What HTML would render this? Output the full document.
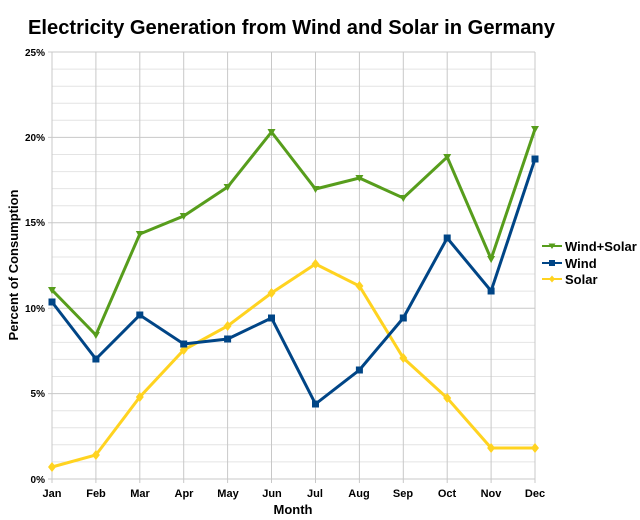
<!DOCTYPE html>
<html><head><style>body{margin:0;background:#fff}svg{display:block}</style></head><body>
<svg width="640" height="520" xmlns="http://www.w3.org/2000/svg" font-family="Liberation Sans, Arial, sans-serif">
<rect width="640" height="520" fill="#fff"/>
<text x="28" y="34" font-size="20" font-weight="bold" textLength="527" lengthAdjust="spacingAndGlyphs" fill="#000">Electricity Generation from Wind and Solar in Germany</text>
<g stroke="#e4e4e4" stroke-width="1">
<line x1="52" x2="535" y1="69.1" y2="69.1"/><line x1="52" x2="535" y1="86.2" y2="86.2"/><line x1="52" x2="535" y1="103.2" y2="103.2"/><line x1="52" x2="535" y1="120.3" y2="120.3"/>
<line x1="52" x2="535" y1="154.5" y2="154.5"/><line x1="52" x2="535" y1="171.6" y2="171.6"/><line x1="52" x2="535" y1="188.6" y2="188.6"/><line x1="52" x2="535" y1="205.7" y2="205.7"/>
<line x1="52" x2="535" y1="239.9" y2="239.9"/><line x1="52" x2="535" y1="257" y2="257"/><line x1="52" x2="535" y1="274" y2="274"/><line x1="52" x2="535" y1="291.1" y2="291.1"/>
<line x1="52" x2="535" y1="325.3" y2="325.3"/><line x1="52" x2="535" y1="342.4" y2="342.4"/><line x1="52" x2="535" y1="359.4" y2="359.4"/><line x1="52" x2="535" y1="376.5" y2="376.5"/>
<line x1="52" x2="535" y1="410.7" y2="410.7"/><line x1="52" x2="535" y1="427.8" y2="427.8"/><line x1="52" x2="535" y1="444.8" y2="444.8"/><line x1="52" x2="535" y1="461.9" y2="461.9"/>
</g>
<g stroke="#c8c8c8" stroke-width="1">
<line x1="48" x2="535" y1="52" y2="52"/><line x1="48" x2="535" y1="137.4" y2="137.4"/><line x1="48" x2="535" y1="222.8" y2="222.8"/><line x1="48" x2="535" y1="308.2" y2="308.2"/><line x1="48" x2="535" y1="393.6" y2="393.6"/><line x1="48" x2="535" y1="479" y2="479"/>
<line x1="52" x2="52" y1="52" y2="483"/><line x1="95.9" x2="95.9" y1="52" y2="483"/><line x1="139.8" x2="139.8" y1="52" y2="483"/><line x1="183.7" x2="183.7" y1="52" y2="483"/><line x1="227.6" x2="227.6" y1="52" y2="483"/><line x1="271.5" x2="271.5" y1="52" y2="483"/><line x1="315.5" x2="315.5" y1="52" y2="483"/><line x1="359.4" x2="359.4" y1="52" y2="483"/><line x1="403.3" x2="403.3" y1="52" y2="483"/><line x1="447.2" x2="447.2" y1="52" y2="483"/><line x1="491.1" x2="491.1" y1="52" y2="483"/><line x1="535" x2="535" y1="52" y2="483"/>
</g>
<g font-size="10" font-weight="bold" text-anchor="end" fill="#000">
<text x="45" y="56">25%</text><text x="45" y="141">20%</text><text x="45" y="226">15%</text><text x="45" y="312">10%</text><text x="45" y="397">5%</text><text x="45" y="483">0%</text>
</g>
<g font-size="11" font-weight="bold" text-anchor="middle" fill="#000">
<text x="52" y="497">Jan</text><text x="96" y="497">Feb</text><text x="140" y="497">Mar</text><text x="184" y="497">Apr</text><text x="228" y="497">May</text><text x="272" y="497">Jun</text><text x="315" y="497">Jul</text><text x="359" y="497">Aug</text><text x="403" y="497">Sep</text><text x="447" y="497">Oct</text><text x="491" y="497">Nov</text><text x="535" y="497">Dec</text>
</g>
<text x="293" y="514" font-size="13" font-weight="bold" text-anchor="middle">Month</text>
<text transform="translate(18,265) rotate(-90)" font-size="13" font-weight="bold" text-anchor="middle">Percent of Consumption</text>
<polyline fill="none" stroke="#ffd320" stroke-width="3" points="52,467 95.9,455 139.8,397 183.7,350 227.6,326 271.5,293 315.5,264 359.4,286 403.3,358 447.2,398 491.1,448 535,448"/>
<g fill="#ffd320"><path d="M52,462 l4,5 -4,5 -4,-5z"/><path d="M95.9,450 l4,5 -4,5 -4,-5z"/><path d="M139.8,392 l4,5 -4,5 -4,-5z"/><path d="M183.7,345 l4,5 -4,5 -4,-5z"/><path d="M227.6,321 l4,5 -4,5 -4,-5z"/><path d="M271.5,288 l4,5 -4,5 -4,-5z"/><path d="M315.5,259 l4,5 -4,5 -4,-5z"/><path d="M359.4,281 l4,5 -4,5 -4,-5z"/><path d="M403.3,353 l4,5 -4,5 -4,-5z"/><path d="M447.2,393 l4,5 -4,5 -4,-5z"/><path d="M491.1,443 l4,5 -4,5 -4,-5z"/><path d="M535,443 l4,5 -4,5 -4,-5z"/></g>
<polyline fill="none" stroke="#004586" stroke-width="3" points="52,302 95.9,359 139.8,315 183.7,344 227.6,339 271.5,318 315.5,404 359.4,370 403.3,318 447.2,238 491.1,291 535,159"/>
<g fill="#004586"><rect x="48.5" y="298.5" width="7" height="7"/><rect x="92.4" y="355.5" width="7" height="7"/><rect x="136.3" y="311.5" width="7" height="7"/><rect x="180.2" y="340.5" width="7" height="7"/><rect x="224.1" y="335.5" width="7" height="7"/><rect x="268" y="314.5" width="7" height="7"/><rect x="312" y="400.5" width="7" height="7"/><rect x="355.9" y="366.5" width="7" height="7"/><rect x="399.8" y="314.5" width="7" height="7"/><rect x="443.7" y="234.5" width="7" height="7"/><rect x="487.6" y="287.5" width="7" height="7"/><rect x="531.5" y="155.5" width="7" height="7"/></g>
<polyline fill="none" stroke="#579d1c" stroke-width="3" points="52,290 95.9,335 139.8,234 183.7,216 227.6,187 271.5,132 315.5,189 359.4,178 403.3,198 447.2,157 491.1,259 535,129"/>
<g fill="#579d1c"><path d="M48,287h8l-4,7z"/><path d="M91.9,332h8l-4,7z"/><path d="M135.8,231h8l-4,7z"/><path d="M179.7,213h8l-4,7z"/><path d="M223.6,184h8l-4,7z"/><path d="M267.5,129h8l-4,7z"/><path d="M311.5,186h8l-4,7z"/><path d="M355.4,175h8l-4,7z"/><path d="M399.3,195h8l-4,7z"/><path d="M443.2,154h8l-4,7z"/><path d="M487.1,256h8l-4,7z"/><path d="M531,126h8l-4,7z"/></g>
<g stroke-width="2">
<line x1="542" x2="562" y1="246" y2="246" stroke="#579d1c"/><line x1="542" x2="562" y1="263" y2="263" stroke="#004586"/><line x1="542" x2="562" y1="279" y2="279" stroke="#ffd320"/>
</g>
<path d="M548.5,243.5h7l-3.5,5.5z" fill="#579d1c"/><rect x="549" y="260" width="6" height="6" fill="#004586"/><path d="M552,275.5l3,3.5-3,3.5-3,-3.5z" fill="#ffd320"/>
<g font-size="13" font-weight="bold" fill="#000">
<text x="565" y="251">Wind+Solar</text><text x="565" y="268">Wind</text><text x="565" y="284">Solar</text>
</g>
</svg>
</body></html>
